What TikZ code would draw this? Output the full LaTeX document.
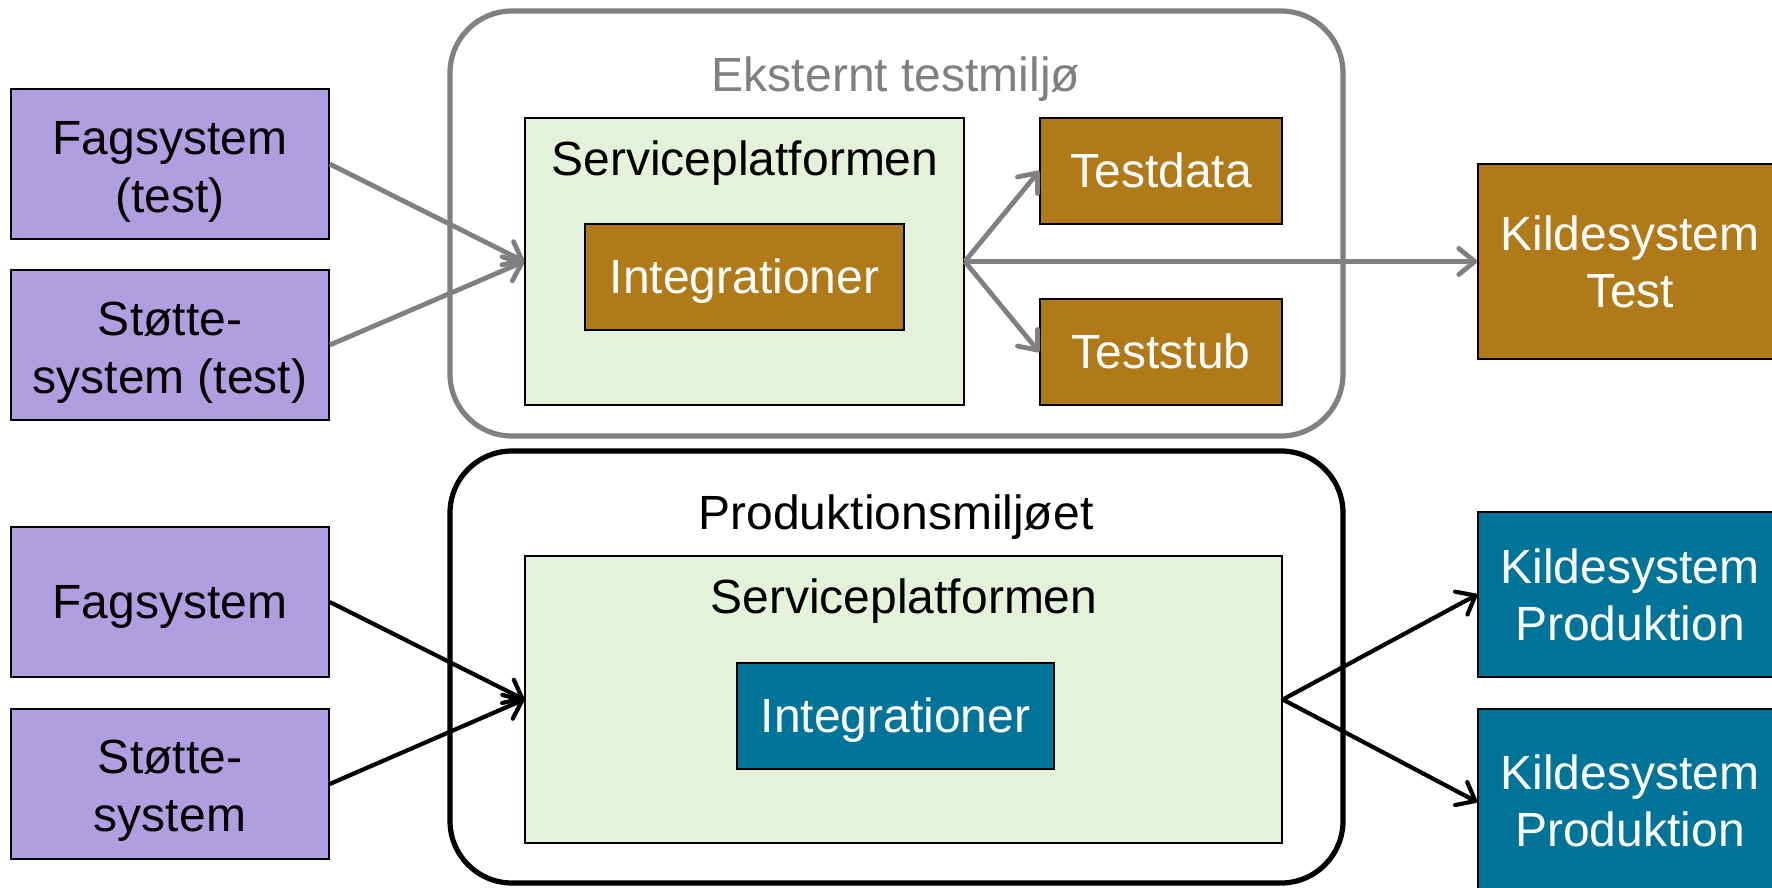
\documentclass[tikz,border=0pt]{standalone}
\usepackage{fontspec}
\setmainfont{Liberation Sans}
\usetikzlibrary{arrows.meta}
\definecolor{lav}{RGB}{175,159,224}
\definecolor{brn}{RGB}{176,122,24}
\definecolor{tealb}{RGB}{0,116,152}
\definecolor{lgreen}{RGB}{229,242,218}
\definecolor{envgray}{RGB}{128,128,128}
\newcommand{\pstrut}{\rule[-0.212em]{0pt}{1.117em}}
\begin{document}
\begin{tikzpicture}[x=1pt,y=-1pt,
  every node/.style={font=\fontsize{48}{57.6}\selectfont, inner sep=0pt, align=center,
    execute at begin node=\pstrut, execute at end node=\pstrut},
  sysbox/.style={draw=black, line width=1.6pt, fill=lav, minimum width=318pt, minimum height=150pt},
  brownbox/.style={draw=black, line width=1.6pt, fill=brn, text=white},
  bluebox/.style={draw=black, line width=1.6pt, fill=tealb, text=white},
  greenbox/.style={draw=black, line width=1.6pt, fill=lgreen},
  envbox/.style={line width=5.2pt, rounded corners=62pt, minimum width=893pt, minimum height=432pt},
  grayconn/.style={draw=envgray, line width=4.8pt, -{Straight Barb[length=16pt,width=26pt,round]}},
  blackconn/.style={draw=black, line width=4.2pt, -{Straight Barb[length=16pt,width=26pt,round]}}
]
\useasboundingbox (0,0) rectangle (1772,888);
\clip (0,0) rectangle (1772,888);
\fill[white] (0,0) rectangle (1772,888);

% ---------- test environment ----------
\node[envbox, draw=envgray, minimum height=425pt] (envT) at (896.5,223.5) {};
\node[text=envgray] (envTlabel) at (896,75) {Eksternt testmiljø};
\node[greenbox, minimum width=439pt, minimum height=287pt] (spT) at (744.5,261.5) {};
\node (spTlabel) at (745,159) {Serviceplatformen};
\node[brownbox, minimum width=319pt, minimum height=106pt] (intT) at (744.5,277) {Integrationer};
\node[brownbox, minimum width=242pt, minimum height=106pt] (tdata) at (1161,171) {Testdata};
\node[brownbox, minimum width=242pt, minimum height=106pt] (tstub) at (1161,352) {Teststub};
\node[brownbox, minimum width=304pt, minimum height=195pt,
      label={[name=kTt, text=white, yshift=-5pt]center:{Kildesystem\\Test}}] (kT) at (1630,261.5) {};

\node[sysbox, label={[name=fagTt, yshift=-8pt]center:{Fagsystem\\(test)}}] (fagT) at (170,164) {};
\node[sysbox, label={[name=stoTt, yshift=-8pt]center:{Støtte-\\system (test)}}] (stoT) at (170,345) {};

% ---------- production environment ----------
\node[envbox, draw=black] (envP) at (896.5,667) {};
\node (envPlabel) at (896,513) {Produktionsmiljøet};
\node[greenbox, minimum width=757pt, minimum height=287pt] (spP) at (903.5,699.5) {};
\node (spPlabel) at (904,597) {Serviceplatformen};
\node[bluebox, minimum width=317pt, minimum height=106pt] (intP) at (895.5,716) {Integrationer};

\node[sysbox] (fag) at (170,602) {Fagsystem};
\node[sysbox, label={[name=stot, yshift=-7pt]center:{Støtte-\\system}}] (sto) at (170,784) {};

\node[bluebox, minimum width=304pt, minimum height=165pt,
      label={[name=kP1t, text=white, yshift=-5pt]center:{Kildesystem\\Produktion}}] (kP1) at (1630,594.5) {};
\node[bluebox, minimum width=304pt, minimum height=186pt,
      label={[name=kP2t, text=white, yshift=-3.5pt]center:{Kildesystem\\Produktion}}] (kP2) at (1630,802) {};

% ---------- connectors ----------
\draw[grayconn] (fagT.east) -- (spT.west);
\draw[grayconn] (stoT.east) -- (spT.west);
\draw[grayconn] (spT.east) -- (tdata.west);
\draw[grayconn] (spT.east) -- (tstub.west);
\draw[grayconn] (spT.east) -- (kT.west);

\draw[blackconn] (fag.east) -- (spP.west);
\draw[blackconn] (sto.east) -- (spP.west);
\draw[blackconn] (spP.east) -- (kP1.west);
\draw[blackconn] (spP.east) -- (kP2.west);
\end{tikzpicture}
\end{document}
